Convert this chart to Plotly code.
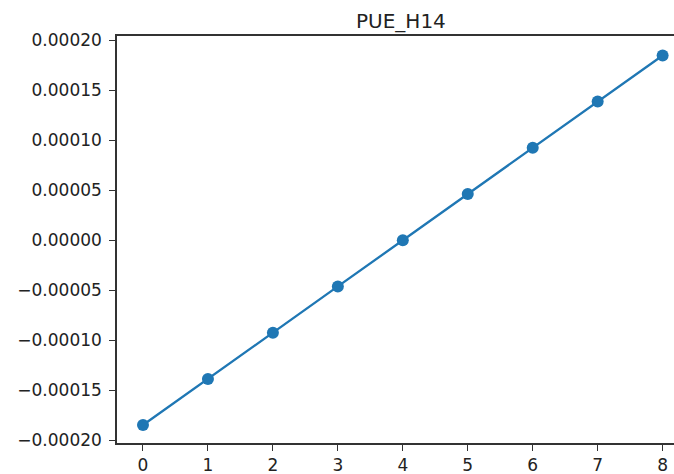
import plotly.graph_objects as go

x_vals = [0, 1, 2, 3, 4, 5, 6, 7, 8]
y_vals = [-0.000185, -0.000139, -0.0000925, -0.0000462, 0.0, 0.0000462, 0.0000925, 0.000139, 0.000185]
y_tickvals = [-0.0002, -0.00015, -0.0001, -0.00005, 0.0, 0.00005, 0.0001, 0.00015, 0.0002]
x_tickvals = [0, 1, 2, 3, 4, 5, 6, 7, 8]
title_text = "PUE_H14"

W, H = 674, 474
L, T, B = 117, 36, 31

fig = go.Figure()
fig.add_trace(go.Scatter(
    x=x_vals, y=y_vals, mode="lines+markers",
    line=dict(color="#1f77b4", width=2.3),
    marker=dict(color="#1f77b4", size=12),
    showlegend=False,
))

font = "DejaVu Sans"
fig.update_layout(
    width=W, height=H,
    margin=dict(l=L, r=0, t=T, b=B, pad=0),
    paper_bgcolor="white", plot_bgcolor="white",
    font=dict(family=font, size=17, color="#222"),
    annotations=[dict(
        text=title_text, xref="paper", yref="paper",
        x=(401 - L) / (W - L), y=1 + (T - 21) / (H - T - B),
        xanchor="center", yanchor="middle", showarrow=False,
        font=dict(family=font, size=20, color="#222"),
    )],
    xaxis=dict(
        range=[-0.4, 8.175], tickvals=x_tickvals,
        showgrid=False, zeroline=False,
        showline=True, linecolor="#333", linewidth=1.5, mirror=True,
        ticks="outside", ticklen=6, tickwidth=1.3, tickcolor="#333",
        tickfont=dict(family=font, size=17, color="#222"),
    ),
    yaxis=dict(
        range=[-0.000203, 0.0002045], tickvals=y_tickvals, tickformat=".5f",
        showgrid=False, zeroline=False,
        showline=True, linecolor="#333", linewidth=1.5,
        ticks="outside", ticklen=6, tickwidth=1.3, tickcolor="#333",
        ticklabelstandoff=4,
        tickfont=dict(family=font, size=17, color="#222"),
    ),
)

fig.write_html(
    "out.html",
    config={"displayModeBar": False},
    post_script="document.body.style.margin='0';document.body.style.overflow='hidden';",
)
